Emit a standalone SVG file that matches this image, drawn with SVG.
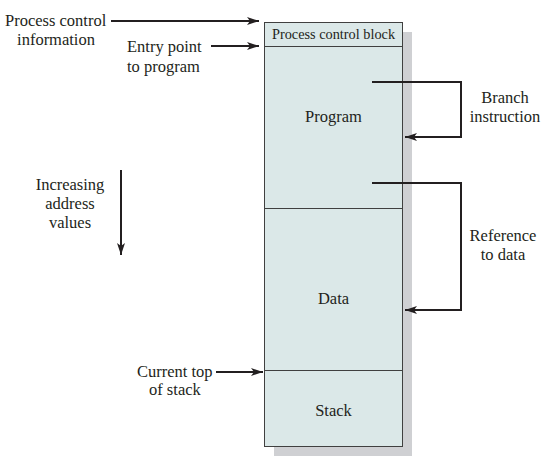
<svg xmlns="http://www.w3.org/2000/svg" width="557" height="464" viewBox="0 0 557 464">
<defs>
<marker id="ah" viewBox="0 0 12 8" refX="12" refY="4" markerWidth="12" markerHeight="8" markerUnits="userSpaceOnUse" orient="auto">
<path d="M0,0 L12,4 L0,8 L3,4 Z" fill="#231f20"/>
</marker>
</defs>
<style>
text{font-family:'Liberation Serif',serif;font-size:16.5px;fill:#231f20}
.c{text-anchor:middle}
.seg{fill:#dbe8e8;stroke:#404040;stroke-width:1}
.shadow{fill:#cfd0d3}
.ln{fill:none;stroke:#231f20;stroke-width:2}
</style>
<rect width="557" height="464" fill="#fff"/>
<rect class="shadow" x="274" y="32" width="138" height="424"/>
<g id="pcb">
<rect class="seg" x="264.5" y="22.5" width="138" height="24"/>
<text class="c" x="333.5" y="39" style="font-size:14.3px">Process control block</text>
</g>
<g id="program">
<rect class="seg" x="264.5" y="46.5" width="138" height="162"/>
<text class="c" x="333.5" y="122">Program</text>
</g>
<g id="data">
<rect class="seg" x="264.5" y="208.5" width="138" height="162"/>
<text class="c" x="333.5" y="304">Data</text>
</g>
<g id="stack">
<rect class="seg" x="264.5" y="370.5" width="138" height="76"/>
<text class="c" x="333.5" y="416">Stack</text>
</g>
<g id="labels">
<text x="5" y="26">Process control</text>
<text class="c" x="56" y="45">information</text>
<text x="127" y="52">Entry point</text>
<text x="127" y="72">to program</text>
<text class="c" x="70" y="190">Increasing</text>
<text class="c" x="70" y="209">address</text>
<text class="c" x="70" y="228">values</text>
<text x="137" y="377">Current top</text>
<text x="149" y="395">of stack</text>
<text class="c" x="505" y="103">Branch</text>
<text class="c" x="505" y="122">instruction</text>
<text class="c" x="503" y="241">Reference</text>
<text class="c" x="503" y="260">to data</text>
</g>
<g id="connectors">
<line class="ln" x1="111" y1="21" x2="259" y2="21" marker-end="url(#ah)"/>
<line class="ln" x1="211" y1="46" x2="259" y2="46" marker-end="url(#ah)"/>
<line class="ln" x1="121" y1="170" x2="121" y2="255" marker-end="url(#ah)"/>
<line class="ln" x1="216" y1="372" x2="263" y2="372" marker-end="url(#ah)"/>
<polyline class="ln" points="372,82 461,82 461,137 405,137" marker-end="url(#ah)"/>
<polyline class="ln" points="372,183 461,183 461,310 405,310" marker-end="url(#ah)"/>
</g>
</svg>
